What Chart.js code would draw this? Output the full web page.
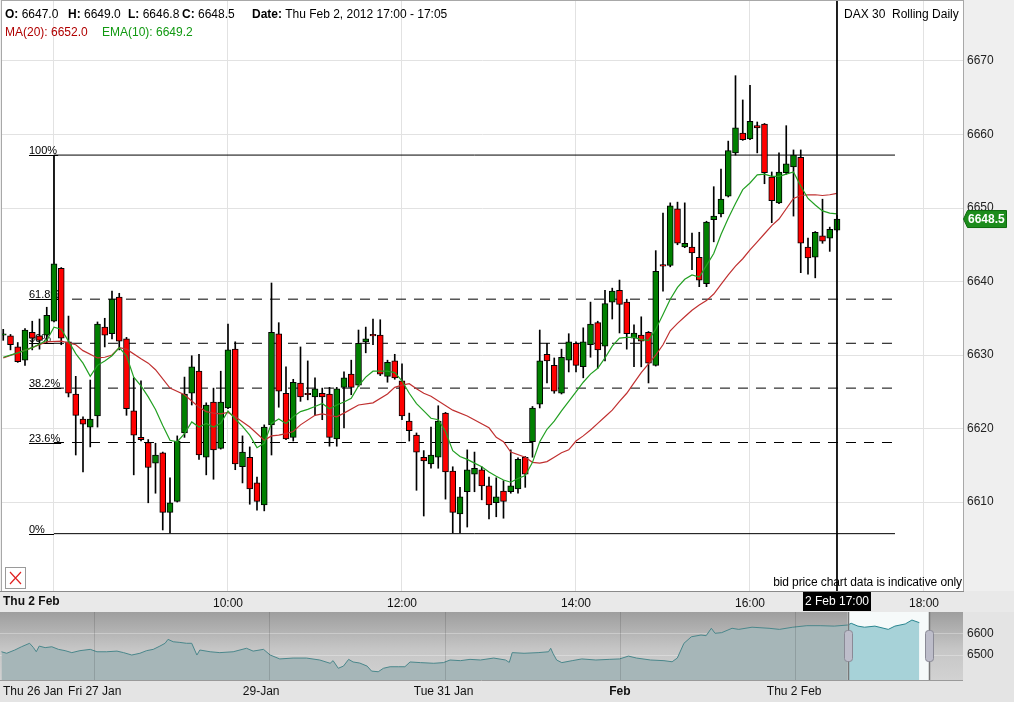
<!DOCTYPE html>
<html><head><meta charset="utf-8">
<script src="https://cdn.jsdelivr.net/npm/chart.js@4.4.1/dist/chart.umd.min.js"></script>
<style>
html,body{margin:0;padding:0;background:#eeeeee;}
#wrap{position:relative;width:1014px;height:702px;overflow:hidden;background:#eeeeee;font-family:Arial,"Liberation Sans",sans-serif;}
canvas{position:absolute;left:0;}
#main{top:0;}
#nav{top:612px;}
.t{position:absolute;font-size:12px;line-height:14px;white-space:pre;color:#000;}
b{font-weight:bold;}
</style></head>
<body><div id="wrap">
<canvas id="main" width="1014" height="612"></canvas>
<canvas id="nav" width="1014" height="90"></canvas>
<div class="t" style="left:5px;top:7px"><b>O:</b> 6647.0</div>
<div class="t" style="left:68px;top:7px"><b>H:</b> 6649.0</div>
<div class="t" style="left:128px;top:7px"><b>L:</b> 6646.8</div>
<div class="t" style="left:182px;top:7px"><b>C:</b> 6648.5</div>
<div class="t" style="left:252px;top:7px"><b>Date:</b> Thu Feb 2, 2012 17:00 - 17:05</div>
<div class="t" style="left:5px;top:25px;color:#b00000">MA(20): 6652.0</div>
<div class="t" style="left:102px;top:25px;color:#119911">EMA(10): 6649.2</div>
<div class="t" style="left:844px;top:7px">DAX 30  Rolling Daily</div>
<div class="t" style="right:52px;top:575px;font-size:12px;letter-spacing:-0.1px">bid price chart data is indicative only</div>
</div>
<script>
// ---------------- DATA ----------------
const times = ["07:25","07:30","07:35","07:40","07:45","07:50","07:55",
"08:00","08:05","08:10","08:15","08:20","08:25","08:30","08:35","08:40","08:45","08:50","08:55",
"09:00","09:05","09:10","09:15","09:20","09:25","09:30","09:35","09:40","09:45","09:50","09:55",
"10:00","10:05","10:10","10:15","10:20","10:25","10:30","10:35","10:40","10:45","10:50","10:55",
"11:00","11:05","11:10","11:15","11:20","11:25","11:30","11:35","11:40","11:45","11:50","11:55",
"12:00","12:05","12:10","12:15","12:20","12:25","12:30","12:35","12:40","12:45","12:50","12:55",
"13:00","13:05","13:10","13:15","13:20","13:25","13:30","13:35","13:40","13:45","13:50","13:55",
"14:00","14:05","14:10","14:15","14:20","14:25","14:30","14:35","14:40","14:45","14:50","14:55",
"15:00","15:05","15:10","15:15","15:20","15:25","15:30","15:35","15:40","15:45","15:50","15:55",
"16:00","16:05","16:10","16:15","16:20","16:25","16:30","16:35","16:40","16:45","16:50","16:55",
"17:00"];
const opens = [6632.7,6632.6,6631.1,6629.3,6633.1,6632.6,6632.7,6634.6,6641.8,6631.8,
6624.7,6621.3,6620.2,6621.7,6633.8,6632.9,6637.9,6632.2,6622.4,6618.8,
6618.1,6615.3,6616.7,6608.6,6610.1,6619.4,6624.8,6627.8,6616.1,6623.6,
6617.3,6622.8,6630.8,6614.8,6616.1,6612.6,6609.6,6620.5,6632.9,6624.8,
6618.8,6626.2,6624.8,6624.3,6624.8,6624.7,6618.6,6625.6,6627.4,6625.9,
6631.8,6632.8,6632.7,6627.1,6629.2,6626.5,6621.0,6619.1,6616.1,6615.2,
6616.1,6622.1,6614.2,6608.4,6611.4,6613.8,6614.4,6612.2,6609.9,6611.5,
6611.4,6611.8,6616.1,6618.2,6623.3,6630.1,6628.6,6624.8,6629.3,6631.6,
6628.4,6631.4,6634.4,6631.2,6637.2,6638.8,6637.2,6632.3,6632.7,6633.1,
6628.6,6642.3,6642.2,6649.9,6644.7,6644.7,6643.3,6639.7,6648.4,6649.2,
6651.6,6657.5,6660.2,6659.4,6661.2,6661.4,6654.2,6650.7,6654.8,6655.6,
6656.9,6644.7,6643.3,6646.2,6645.9,6647.0];
const highs = [6633.5,6632.8,6631.7,6633.6,6634.6,6634.9,6636.5,6642.6,6641.9,6635.3,
6627.1,6621.6,6626.6,6634.5,6635.0,6638.7,6638.4,6632.4,6626.9,6626.5,
6618.5,6618.0,6616.8,6613.3,6619.0,6627.0,6629.9,6630.1,6623.5,6625.5,
6627.8,6634.2,6631.8,6619.0,6617.5,6613.4,6620.5,6639.8,6634.4,6628.4,
6626.7,6631.1,6629.2,6626.9,6625.5,6625.6,6625.6,6627.7,6629.3,6633.4,
6633.8,6634.9,6634.8,6629.3,6630.1,6628.8,6622.1,6619.4,6617.0,6620.2,
6623.1,6622.2,6614.8,6612.0,6617.1,6616.8,6614.8,6613.4,6613.3,6612.9,
6617.1,6616.0,6616.2,6623.0,6633.4,6631.6,6629.6,6630.8,6632.9,6631.8,
6633.7,6637.2,6634.6,6638.8,6639.1,6640.2,6637.6,6634.1,6635.2,6633.2,
6644.2,6649.3,6650.7,6650.8,6650.7,6646.6,6646.7,6648.2,6652.9,6655.3,
6659.1,6668.0,6664.7,6666.7,6661.7,6661.5,6654.9,6657.5,6661.2,6657.9,
6657.9,6645.9,6646.8,6651.2,6647.4,6649.0];
const lows = [6632.0,6630.7,6629.0,6628.6,6630.7,6630.8,6631.6,6634.5,6631.4,6624.3,
6616.4,6614.1,6617.5,6620.2,6631.1,6632.2,6630.7,6621.8,6613.7,6618.3,
6609.9,6611.2,6606.2,6605.8,6610.0,6618.8,6623.2,6615.8,6613.7,6613.1,
6617.2,6622.7,6614.4,6612.6,6609.7,6608.9,6608.8,6616.4,6622.9,6618.5,
6618.3,6623.7,6623.9,6621.8,6621.2,6617.6,6617.6,6620.1,6624.6,6625.7,
6630.3,6631.4,6627.2,6626.3,6626.7,6621.2,6618.3,6611.6,6608.1,6614.6,
6614.6,6610.4,6605.8,6605.8,6606.6,6611.4,6610.3,6607.7,6608.0,6607.8,
6611.2,6611.2,6612.0,6616.1,6622.8,6626.2,6624.8,6624.7,6627.7,6627.7,
6626.9,6629.7,6628.2,6629.2,6634.9,6633.0,6630.8,6628.4,6628.4,6626.2,
6628.5,6638.7,6642.0,6645.0,6644.6,6641.6,6639.3,6639.3,6645.4,6648.8,
6651.5,6657.2,6659.2,6659.3,6657.5,6653.3,6648.0,6650.6,6654.6,6648.9,
6641.2,6641.0,6640.5,6645.2,6644.1,6646.8];
const closes = [6632.9,6631.4,6629.1,6633.4,6632.3,6632.0,6635.4,6642.4,6632.3,6624.8,
6621.8,6620.6,6621.3,6634.2,6632.7,6637.6,6631.9,6622.7,6619.1,6618.5,
6614.7,6616.4,6608.6,6609.9,6618.3,6624.7,6628.4,6616.4,6623.2,6617.1,
6623.6,6630.7,6615.2,6616.8,6611.8,6610.1,6620.2,6633.1,6625.1,6618.6,
6626.3,6624.3,6624.6,6625.4,6624.3,6618.8,6625.4,6626.9,6625.6,6631.6,
6632.2,6632.6,6627.4,6629.0,6626.9,6621.7,6619.7,6616.8,6615.6,6616.4,
6621.0,6614.1,6608.6,6610.7,6614.4,6614.6,6612.2,6609.6,6610.7,6610.1,
6612.2,6615.8,6613.8,6622.8,6629.2,6629.2,6625.1,6629.7,6631.8,6628.6,
6631.8,6634.2,6630.7,6637.0,6638.7,6636.9,6632.9,6633.0,6631.9,6628.9,
6641.4,6642.1,6650.3,6645.2,6645.2,6643.9,6640.2,6648.1,6648.9,6651.2,
6657.8,6660.9,6659.3,6661.8,6660.9,6654.8,6651.0,6654.9,6656.0,6657.2,
6645.2,6643.2,6646.7,6645.5,6647.1,6648.5];
// EMA(10) read per candle (null = not read)
const emaValues = [6629.7,null,6630.3,null,6631.0,null,6632.0,6633.8,6633.5,6631.9,
6630.2,6628.9,6627.1,6628.6,6629.2,6629.9,6631.0,6629.9,6627.0,6625.8,
6624.3,6622.6,6620.4,6618.4,6618.2,6619.3,6620.9,6620.2,6620.7,6620.2,
6620.7,6622.4,6621.3,6620.3,6619.1,6617.4,6618.0,6620.7,6621.3,6620.7,
6621.6,6622.3,6622.6,6623.0,6623.4,6622.7,6623.2,6623.6,6624.1,6625.8,
6627.0,6627.8,6627.8,6627.8,6627.6,6626.5,6624.8,6623.4,6622.4,6621.4,
6621.2,6619.6,6617.0,6616.2,6615.8,6615.3,6614.8,6614.1,6613.5,6613.0,
6612.7,6613.2,6613.6,6615.4,6618.2,6619.9,6621.0,6622.4,6623.7,6625.0,
6626.3,6627.4,6628.2,6629.6,6631.2,6632.3,6632.4,6632.4,6632.1,6632.0,
6633.5,6635.5,6637.6,6639.2,6640.3,6640.9,6640.6,6642.2,6643.8,6646.4,
6648.6,6650.6,6652.5,6653.4,6654.5,6654.6,6654.3,6654.3,6654.6,6654.9,
6653.0,6651.3,6650.4,6649.6,6649.3,6649.2];
// MA(20) read at these times
const maTimes = ["07:25","07:35","07:45","07:55","08:05","08:15","08:20","08:30","08:35","08:40","08:45","08:50",
"09:00","09:05","09:10","09:20","09:30","09:40","09:45","09:50","09:55","10:00","10:05","10:15","10:25","10:30",
"10:35","10:40","10:45","10:50","11:00","11:05","11:15","11:20","11:30","11:40","11:50","11:55","12:00","12:05",
"12:10","12:15","12:20","12:35","12:45","13:00","13:05","13:10","13:15","13:25","13:30","13:35","13:40","13:45",
"13:50","13:55","14:00","14:05","14:10","14:15","14:20","14:25","14:30","14:35","14:40","14:45","14:55","15:00",
"15:05","15:10","15:15","15:20","15:25","15:30","15:35","15:40","15:45","15:50","15:55","16:00","16:05","16:10",
"16:15","16:20","16:25","16:30","16:35","16:40","16:45","16:50","16:55","17:00"];
const maValues = [6629.6,6630.3,6631.0,6631.8,6631.9,6631.4,6630.6,6629.6,6629.7,6630.0,6631.0,6630.8,
6629.5,6628.9,6628.0,6625.5,6624.6,6622.9,6622.3,6622.1,6622.0,6622.2,6621.6,6620.2,6618.4,6619.0,
6619.1,6619.3,6619.6,6620.5,6621.8,6622.0,6621.6,6622.1,6623.2,6623.5,6624.7,6625.6,6625.9,6626.1,
6625.4,6624.8,6624.4,6622.5,6621.7,6620.1,6618.8,6618.2,6616.8,6616.1,6615.4,6615.3,6615.5,6616.1,
6616.7,6617.1,6618.3,6619.0,6619.8,6620.7,6621.6,6622.5,6623.7,6624.8,6626.2,6627.6,6630.0,6631.4,
6633.3,6634.3,6635.2,6636.1,6636.8,6637.4,6638.3,6639.6,6640.9,6642.1,6643.1,6644.3,6645.4,6646.5,
6647.6,6648.5,6649.9,6651.3,6651.7,6651.8,6651.8,6651.7,6651.8,6652.0];
// Fibonacci retracement
const fibLabels = ["100%","61.8%","50%","38.2%","23.6%","0%"];
const fibValues = [6657.2,6637.6,6631.6,6625.5,6618.1,6605.7];
const fibStart = "08:00", fibEnd = "17:40";
const cursorTime = "17:00";
// axes
const yTicks = [6610,6620,6630,6640,6650,6660,6670];
const xTickTimes = ["08:00","10:00","12:00","14:00","16:00","18:00"];
const xTickLabels = ["","10:00","12:00","14:00","16:00","18:00"];
// navigator (x in trading hours across the period)
const navHours = [0.2,0.9,2.0,2.9,4.0,4.5,4.9,5.3,6.1,7.0,7.9,8.8,9.7,10.8,12.2,13.1,14.4,15.8,16.7,17.8,
18.9,19.8,20.7,21.6,22.3,22.7,23.4,24.3,25.2,25.9,26.6,27.0,28.4,29.7,31.5,33.3,34.2,35.6,36.5,37.8,
39.6,41.4,43.2,44.6,45.0,45.7,46.4,47.1,47.7,48.6,49.6,50.2,51.1,51.8,52.7,53.8,54.7,55.4,56.8,58.6,
59.9,60.8,62.2,63.5,64.9,66.7,68.3,68.8,69.2,70.8,72.7,74.1,74.4,74.7,75.2,75.9,77.3,78.6,80.5,82.3,
83.7,84.9,86.0,87.9,89.7,90.8,91.5,92.4,93.4,94.7,95.4,96.1,96.6,97.5,98.9,99.8,101.6,103.9,105.3,107.1,
109.0,110.8,112.7,114.5,115.0,115.9,116.8,118.2,120.0,120.9,122.3,123.2,124.2];
const navValues = [6515,6508,6523,6538,6554,6535,6515,6541,6534,6538,6526,6520,6511,6520,6526,6515,6515,6518,6511,6500,
6508,6520,6526,6541,6554,6572,6561,6558,6554,6554,6500,6523,6515,6511,6515,6531,6518,6526,6500,6482,
6486,6486,6477,6462,6474,6439,6449,6480,6468,6463,6449,6426,6423,6439,6446,6446,6446,6468,6465,6462,
6465,6477,6474,6480,6477,6486,6477,6466,6511,6508,6511,6515,6531,6508,6477,6465,6474,6482,6477,6480,
6482,6495,6486,6477,6474,6469,6486,6554,6584,6592,6589,6623,6600,6603,6623,6618,6628,6623,6618,6628,
6635,6635,6633,6638,6646,6633,6628,6633,6618,6633,6643,6661,6649];
const navWindow = [114.5, 125.5];
const navDaySeps = [12.7, 36.4, 60.1, 83.7, 107.4];
const navTickHours = [0.4, 9.2, 32.8, 55.9, 82.3, 103.6];
const navTickLabels = ["Thu 26 Jan","Fri 27 Jan","29-Jan","Tue 31 Jan","Feb","Thu 2 Feb"];
const navYTicks = [6500, 6600];

// ---------------- CHART ----------------
const FONT = 'Arial, "Liberation Sans", sans-serif';
Chart.defaults.font.family = FONT;
const toMin = s => { const p = s.split(':'); return (+p[0])*60 + (+p[1]); };
const X_MIN = 444.14, X_MAX = 1106.9, Y_MIN = 6597.9, Y_MAX = 6678.16;
const xs = times.map(toMin);
const noPad = (s) => { s.paddingTop = 0; s.paddingBottom = 0; s.paddingLeft = 0; s.paddingRight = 0; };

const wickData = xs.map((t,i)=>({x:t, y:[lows[i], highs[i]]}));
const bodyData = xs.map((t,i)=>({x:t, y:[opens[i], closes[i]]}));
const bodyColors = xs.map((t,i)=> closes[i] >= opens[i] ? '#008000' : '#ff0000');

const fibSets = fibValues.map((v,k)=>({
  type:'line', data:[{x:toMin(fibStart),y:v},{x:toMin(fibEnd),y:v}],
  borderColor:'#000', borderWidth:1, borderDash:(k===0||k===fibValues.length-1)?[]:[10,8],
  pointRadius:0, order:10
}));

const mainPlugin = {
  id:'mainDeco',
  beforeDraw(chart){
    const {ctx, chartArea:a, width, height} = chart;
    ctx.save();
    ctx.fillStyle = '#efefef'; ctx.fillRect(0,0,width,height);
    ctx.fillStyle = '#ffffff'; ctx.fillRect(a.left,a.top,a.right-a.left,a.bottom-a.top);
    ctx.fillStyle = '#e9e9e9'; ctx.fillRect(0,a.bottom,width,height-a.bottom);
    ctx.restore();
  },
  beforeDatasetsDraw(chart){
    const {ctx} = chart; const xS = chart.scales.x, yS = chart.scales.y;
    ctx.save();
    ctx.font = '11px ' + FONT; ctx.fillStyle = '#000'; ctx.strokeStyle = '#000'; ctx.lineWidth = 1;
    const xa = xS.getPixelForValue(toMin(fibStart));
    fibValues.forEach((v,k)=>{
      const y = Math.round(yS.getPixelForValue(v)) + 0.5;
      const x0 = xa - 25;
      const w = ctx.measureText(fibLabels[k]).width;
      ctx.fillText(fibLabels[k], x0, y - 2);
      ctx.beginPath(); ctx.moveTo(x0, y); ctx.lineTo(Math.max(x0 + w + 1, xa), y); ctx.stroke();
    });
    ctx.restore();
  },
  afterDraw(chart){
    const {ctx, chartArea:a} = chart; const xS = chart.scales.x, yS = chart.scales.y;
    ctx.save();
    ctx.strokeStyle = '#a8a8a8'; ctx.lineWidth = 1;
    ctx.strokeRect(a.left-0.5, a.top-0.5, a.right-a.left+1, a.bottom-a.top+1);
    ctx.strokeStyle = '#8a8a8a';
    ctx.beginPath(); ctx.moveTo(0, a.bottom+0.5); ctx.lineTo(a.right+1, a.bottom+0.5); ctx.stroke();
    ctx.font = 'bold 12px ' + FONT; ctx.fillStyle = '#111'; ctx.textBaseline = 'middle';
    ctx.fillText('Thu 2 Feb', 3, a.bottom + 11);
    const cx = xS.getPixelForValue(toMin(cursorTime));
    ctx.fillStyle = '#000'; ctx.fillRect(cx - 34, a.bottom + 1, 68, 19);
    ctx.font = '12px ' + FONT; ctx.fillStyle = '#fff'; ctx.textAlign = 'center';
    ctx.fillText('2 Feb 17:00', cx, a.bottom + 11);
    const bx = a.left + 3, by = a.bottom - 24;
    ctx.fillStyle = '#fff'; ctx.fillRect(bx, by, 21, 22);
    ctx.strokeStyle = '#9a9a9a'; ctx.strokeRect(bx+0.5, by+0.5, 20, 21);
    ctx.strokeStyle = '#e02020'; ctx.lineWidth = 1.2;
    ctx.beginPath(); ctx.moveTo(bx+5, by+5); ctx.lineTo(bx+16, by+17); ctx.moveTo(bx+16, by+5); ctx.lineTo(bx+5, by+17); ctx.stroke();
    const last = closes.length - 1;
    const py = yS.getPixelForValue(closes[last]);
    ctx.fillStyle = '#1c8c1c'; ctx.strokeStyle = '#0c6a0c'; ctx.lineWidth = 1;
    ctx.beginPath(); ctx.moveTo(a.right + 0.5, py); ctx.lineTo(a.right + 4.5, py - 8.5); ctx.lineTo(1006.5, py - 8.5);
    ctx.lineTo(1006.5, py + 8.5); ctx.lineTo(a.right + 4.5, py + 8.5); ctx.closePath(); ctx.fill(); ctx.stroke();
    ctx.font = 'bold 12px ' + FONT; ctx.fillStyle = '#fff'; ctx.textAlign = 'left';
    ctx.fillText(closes[last].toFixed(1), a.right + 5, py + 0.5);
    ctx.restore();
  }
};

new Chart(document.getElementById('main'), {
  type:'bar',
  data:{ datasets:[
    {type:'line', data:[{x:toMin(cursorTime),y:Y_MAX},{x:toMin(cursorTime),y:Y_MIN}], borderColor:'#000', borderWidth:1, pointRadius:0, order:0},
    {type:'line', data:xs.map((t,i)=>({x:t,y:emaValues[i]})), borderColor:'#22a022', borderWidth:1.2, pointRadius:0, spanGaps:true, tension:0, order:1},
    {type:'line', data:maTimes.map((t,i)=>({x:toMin(t),y:maValues[i]})), borderColor:'#c03030', borderWidth:1.2, pointRadius:0, tension:0, order:2},
    {type:'bar', data:bodyData, backgroundColor:bodyColors, borderColor:'#000', borderWidth:1, borderSkipped:false, barThickness:6, grouped:false, order:5},
    {type:'bar', data:wickData, backgroundColor:'#000', borderWidth:0, barThickness:1, grouped:false, order:6},
    {type:'line', data:[{x:toMin(fibStart),y:fibValues[0]},{x:toMin(fibStart),y:highs[xs.indexOf(toMin(fibStart))]}], borderColor:'#000', borderWidth:1, pointRadius:0, order:10},
    ...fibSets
  ]},
  options:{
    responsive:false, animation:false, devicePixelRatio:1, events:[],
    layout:{autoPadding:false, padding:{left:2, top:1, right:0, bottom:0}},
    plugins:{legend:{display:false}, tooltip:{enabled:false}},
    scales:{
      x:{ type:'linear', min:X_MIN, max:X_MAX, offset:false, position:'bottom',
        grid:{color:'#e2e2e2', drawTicks:false, offset:false}, border:{display:false},
        afterBuildTicks:(ax)=>{ ax.ticks = xTickTimes.map(s=>({value:toMin(s)})); },
        ticks:{ autoSkip:false, maxRotation:0, padding:5, color:'#111', font:{size:12},
          callback:(v,i)=> xTickLabels[i] },
        afterFit:(s)=>{ s.height = 21; noPad(s); } },
      y:{ type:'linear', position:'right', min:Y_MIN, max:Y_MAX,
        grid:{color:'#e2e2e2', drawTicks:false}, border:{display:false},
        afterBuildTicks:(ax)=>{ ax.ticks = yTicks.map(v=>({value:v})); },
        ticks:{ padding:4, color:'#222', font:{size:12}, callback:(v)=>String(v) },
        afterFit:(s)=>{ s.width = 51; noPad(s); } }
    }
  },
  plugins:[mainPlugin]
});

// ---------------- NAVIGATOR ----------------
const navAll = navHours.map((h,i)=>({x:h, y:navValues[i]}));
const navMain = navAll.filter(p=> p.x <= navWindow[0]);
const navWin = navAll.filter(p=> p.x >= navMain[navMain.length-1].x);
const NAV_MAX = 130.1;
const navPlugin = {
  id:'navDeco',
  beforeDraw(chart){
    const {ctx, chartArea:a, width, height} = chart;
    ctx.save();
    ctx.fillStyle = '#e4e4e4'; ctx.fillRect(0,0,width,height);
    const g = ctx.createLinearGradient(0,a.top,0,a.bottom);
    g.addColorStop(0,'#9e9e9e'); g.addColorStop(0.55,'#c6c6c6'); g.addColorStop(1,'#d2d2d2');
    ctx.fillStyle = g; ctx.fillRect(a.left,a.top,a.right-a.left,a.bottom-a.top);
    ctx.restore();
  },
  beforeDatasetsDraw(chart){
    const {ctx, chartArea:a} = chart; const xS = chart.scales.x;
    const x0 = xS.getPixelForValue(navWindow[0]), x1 = xS.getPixelForValue(navWindow[1]);
    ctx.save(); ctx.fillStyle = '#f6fafa'; ctx.fillRect(x0, a.top, x1-x0, a.bottom-a.top); ctx.restore();
  },
  afterDatasetsDraw(chart){
    const {ctx, chartArea:a} = chart; const xS = chart.scales.x;
    ctx.save(); ctx.strokeStyle = 'rgba(0,0,0,0.13)'; ctx.lineWidth = 1;
    navDaySeps.forEach(h=>{
      const x = Math.round(xS.getPixelForValue(h)) + 0.5;
      ctx.beginPath(); ctx.moveTo(x, a.top); ctx.lineTo(x, a.bottom); ctx.stroke();
    });
    ctx.restore();
  },
  afterDraw(chart){
    const {ctx, chartArea:a} = chart; const xS = chart.scales.x;
    const x0 = xS.getPixelForValue(navWindow[0]), x1 = xS.getPixelForValue(navWindow[1]);
    ctx.save();
    ctx.strokeStyle = '#777'; ctx.lineWidth = 1.5;
    ctx.beginPath(); ctx.moveTo(Math.round(x0)+0.5, a.top); ctx.lineTo(Math.round(x0)+0.5, a.bottom);
    ctx.moveTo(Math.round(x1)+0.5, a.top); ctx.lineTo(Math.round(x1)+0.5, a.bottom); ctx.stroke();
    [x0, x1].forEach(x=>{
      ctx.fillStyle = '#bdbdca'; ctx.strokeStyle = '#8a8a96'; ctx.lineWidth = 1;
      ctx.beginPath(); ctx.roundRect(Math.round(x) - 3.5, a.top + 18.5, 8, 31, 3); ctx.fill(); ctx.stroke();
    });
    ctx.strokeStyle = '#9a9a9a';
    ctx.beginPath(); ctx.moveTo(0, a.bottom+0.5); ctx.lineTo(a.right, a.bottom+0.5); ctx.stroke();
    ctx.restore();
  }
};
new Chart(document.getElementById('nav'), {
  type:'line',
  data:{ datasets:[
    {data:navWin, borderColor:'#2a8690', borderWidth:1, backgroundColor:'#a7d2d8', fill:'start', pointRadius:0, tension:0, order:1},
    {data:navMain, borderColor:'#4a878b', borderWidth:1, backgroundColor:'#a6b6b8', fill:'start', pointRadius:0, tension:0, order:2}
  ]},
  options:{
    responsive:false, animation:false, devicePixelRatio:1, events:[],
    layout:{autoPadding:false, padding:{left:0, top:0, right:0, bottom:0}},
    plugins:{legend:{display:false}, tooltip:{enabled:false}},
    scales:{
      x:{ type:'linear', min:0, max:NAV_MAX, grid:{display:false, drawTicks:false}, border:{display:false},
        afterBuildTicks:(ax)=>{ ax.ticks = navTickHours.map(v=>({value:v})); },
        ticks:{ autoSkip:false, maxRotation:0, align:'start', padding:4, color:'#111',
          font:(c)=>({size:12, weight: c.index === 4 ? 'bold' : 'normal'}),
          callback:(v,i)=> navTickLabels[i] },
        afterFit:(s)=>{ s.height = 22; noPad(s); } },
      y:{ type:'linear', position:'right', min:6385, max:6698,
        grid:{color:'rgba(255,255,255,0.3)', drawTicks:false}, border:{display:false},
        afterBuildTicks:(ax)=>{ ax.ticks = navYTicks.map(v=>({value:v})); },
        ticks:{ padding:4, color:'#222', font:{size:12}, callback:(v)=>String(v) },
        afterFit:(s)=>{ s.width = 51; noPad(s); } }
    }
  },
  plugins:[navPlugin]
});
</script>
</body></html>
